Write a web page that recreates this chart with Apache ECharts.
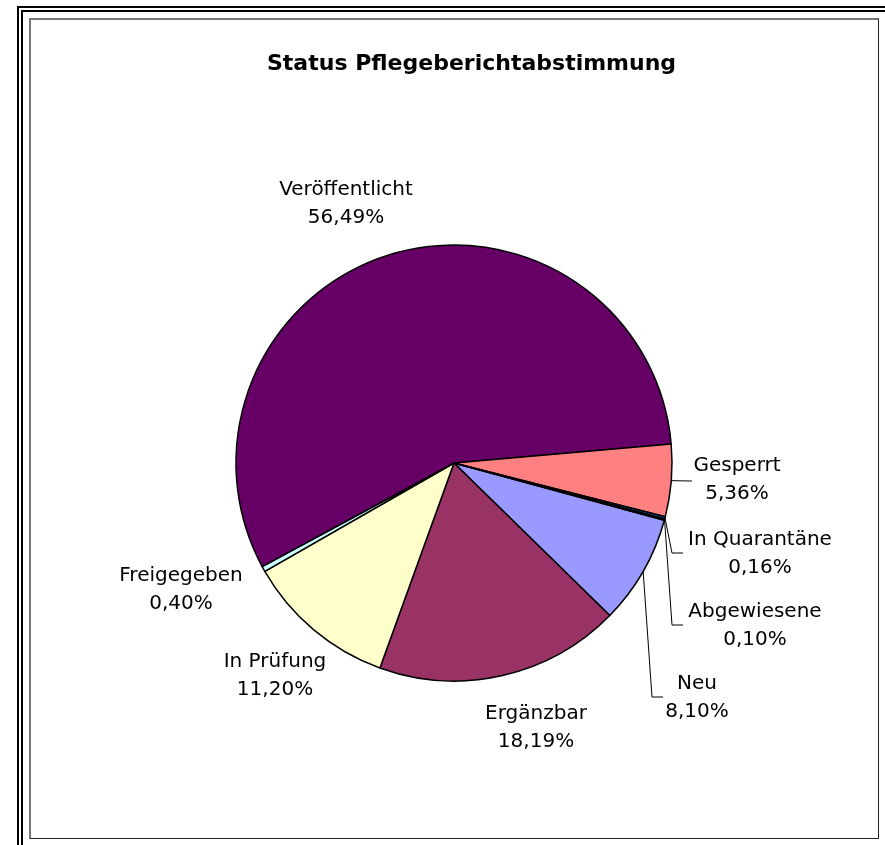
<!DOCTYPE html>
<html>
<head>
<meta charset="utf-8">
<script src="https://cdn.jsdelivr.net/npm/echarts@6/dist/echarts.min.js"></script>
<style>
  html, body { margin: 0; padding: 0; background: #fff; overflow: hidden; }
  #outer { position: absolute; left: 17px; top: 6px; width: 900px; height: 900px; border: 6px double #000; }
  #inner { position: absolute; left: 29px; top: 18px; width: 847px; height: 818px;
           border: 1px solid #222; border-left: 2px solid #777; border-top: 2px solid #777; }
  #chart { position: absolute; left: 0; top: 0; width: 885px; height: 845px; }
</style>
</head>
<body>
<div id="outer"></div>
<div id="inner"></div>
<div id="chart"></div>
<script>
// Werte (Anteile in %), im Uhrzeigersinn ab "Neu"
const categories = ['Neu', 'Ergänzbar', 'In Prüfung', 'Freigegeben', 'Veröffentlicht', 'Gesperrt', 'In Quarantäne', 'Abgewiesene'];
const shares = [8.10, 18.19, 11.20, 0.40, 56.49, 5.36, 0.16, 0.10];
const colors = ['#9999FF', '#993366', '#FFFFCC', '#CCFFFF', '#660066', '#FF8080', '#0066CC', '#CCCCFF'];

// Lage der Beschriftungen (Textmitte) und Knickpunkte der Führungslinien
const labelAnchors = [[697, 698], [536, 728], [275, 676], [181, 590], [346, 204], [737, 480], [760, 554], [755, 626]];
const leaderBends = [
  [[652, 697], [663, 697]],
  null, null, null, null,
  [[692, 481], [692, 481]],
  [[672, 553], [683, 553]],
  [[672, 625], [683, 625]]
];

function fmtPct(v) {
  return v.toFixed(2).replace('.', ',') + '%';
}

let myChart = echarts.init(document.getElementById('chart'));
myChart.setOption({
  animation: false,
  title: {
    text: 'Status Pflegeberichtabstimmung',
    left: 262,
    top: 48,
    textStyle: { fontFamily: 'DejaVu Sans', fontSize: 22, fontWeight: 'bold', color: '#000' }
  },
  series: [{
    type: 'pie',
    center: [454, 463],
    radius: 218,
    startAngle: 344.77,
    clockwise: true,
    avoidLabelOverlap: false,
    itemStyle: { borderColor: '#000', borderWidth: 1.5 },
    label: {
      show: true,
      position: 'outside',
      fontFamily: 'DejaVu Sans',
      fontSize: 20,
      lineHeight: 28,
      color: '#000',
      formatter: function (p) { return p.name + '\n' + fmtPct(p.value); }
    },
    labelLine: { show: false, lineStyle: { color: '#000', width: 1 } },
    labelLayout: function (p) {
      const i = p.dataIndex;
      const a = labelAnchors[i];
      const out = { x: a[0], y: a[1], align: 'center', verticalAlign: 'middle' };
      if (leaderBends[i] && p.labelLinePoints) {
        out.labelLinePoints = [p.labelLinePoints[0], leaderBends[i][0], leaderBends[i][1]];
      }
      return out;
    },
    emphasis: { disabled: true },
    data: categories.map(function (c, i) {
      return {
        name: c,
        value: shares[i],
        itemStyle: { color: colors[i] },
        labelLine: { show: !!leaderBends[i] }
      };
    })
  }]
});
</script>
</body>
</html>
